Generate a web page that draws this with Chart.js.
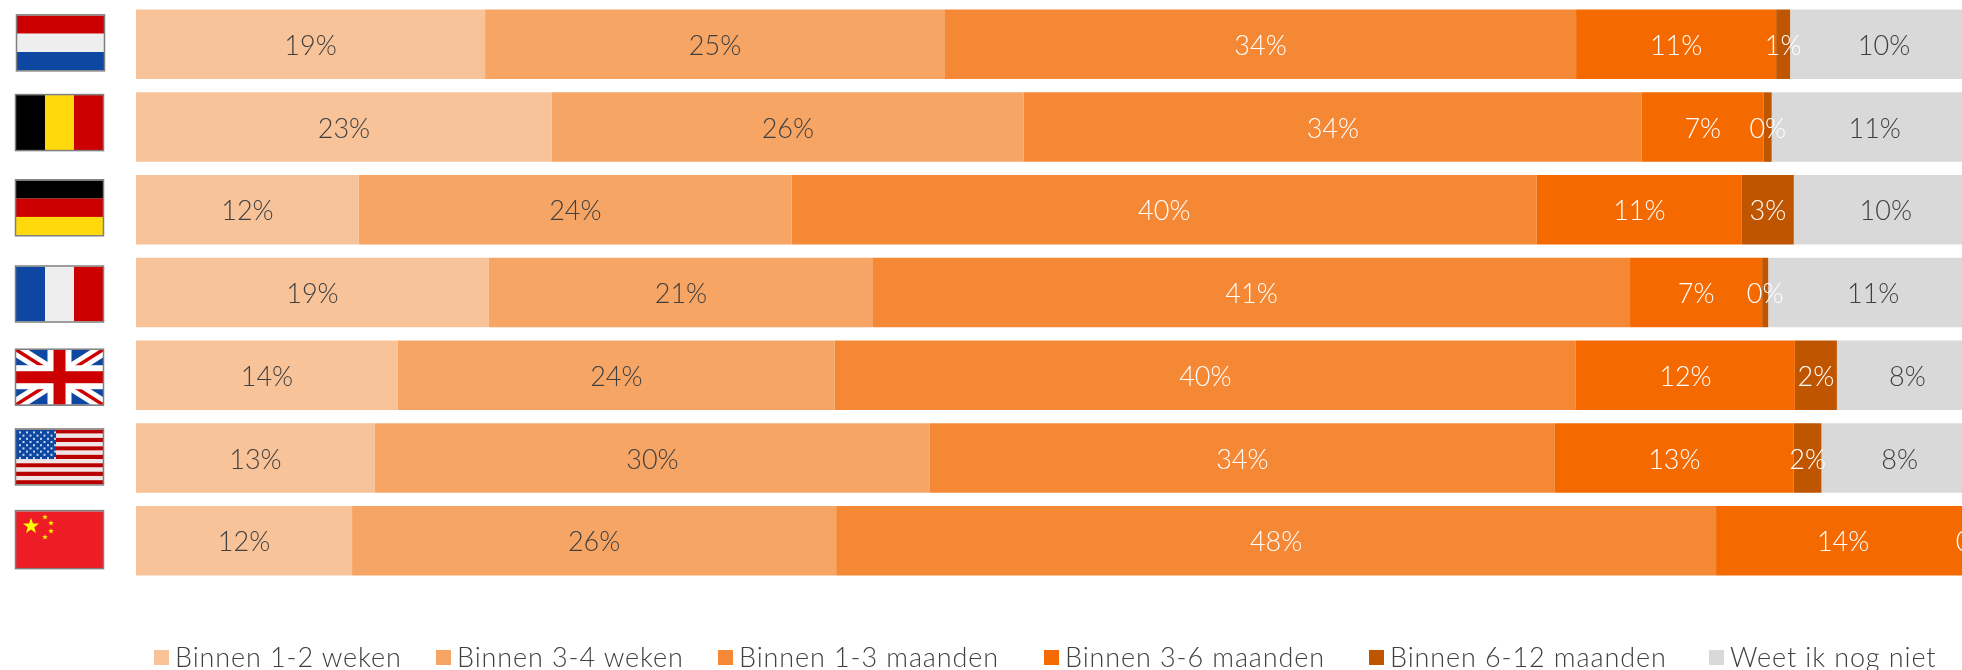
<!DOCTYPE html>
<html lang="nl">
<head>
<meta charset="utf-8">
<title>Binnen welke termijn</title>
<script src="https://cdn.jsdelivr.net/npm/chart.js@4"></script>
<style>
    html, body { margin: 0; padding: 0; background: #fff; width: 1962px; height: 670px; overflow: hidden; }
    #wrap { position: relative; width: 1962px; height: 670px; overflow: hidden; }
    #chart { position: absolute; left: 0; top: 0; }
    .legend-item { position: absolute; top: 640px; height: 30px; line-height: 30px; white-space: nowrap;
        font-family: Lato, sans-serif; font-weight: 300; font-size: 27px; letter-spacing: 0.9px; color: #404040; }
    .legend-item i { position: absolute; left: 0; top: 10px; width: 15px; height: 15px; }
    .legend-item span { position: absolute; left: 21px; top: 2px; }
</style>
</head>
<body>
<div id="wrap"><canvas id="chart" width="1990" height="670"></canvas></div>
<script>
// Landen (van boven naar onder), de vlaggen staan in dezelfde volgorde
const countries = ['Nederland', 'België', 'Duitsland', 'Frankrijk', 'Verenigd Koninkrijk', 'Verenigde Staten', 'China'];
const seriesNames = ['Binnen 1-2 weken', 'Binnen 3-4 weken', 'Binnen 1-3 maanden', 'Binnen 3-6 maanden', 'Binnen 6-12 maanden', 'Weet ik nog niet'];

// Waardes in procenten
const weken12 = [18.95, 22.58, 12.1, 19.16, 14.22, 12.97, 11.73];
const weken34 = [24.97, 25.62, 23.5, 20.85, 23.72, 30.13, 26.28];
const maanden13 = [34.26, 33.55, 40.45, 41.1, 40.23, 33.93, 47.77];
const maanden36 = [10.86, 6.62, 11.13, 7.17, 11.89, 12.97, 13.79];
const maanden612 = [0.76, 0.43, 2.82, 0.33, 2.28, 1.5, 0.43];
const weetNiet = [10.2, 11.18, 9.99, 11.4, 7.65, 8.49, 0];

const seriesValues = [weken12, weken34, maanden13, maanden36, maanden612, weetNiet];
const seriesColors = ['#F8C399', '#F6A565', '#F58835', '#F46A00', '#C05500', '#D9D9D9'];
const labelColors = ['#404040', '#404040', '#ffffff', '#ffffff', '#ffffff', '#404040'];
const legendLeft = [154, 436, 718, 1044, 1369, 1709];

/* ========================================
   Flags
   ======================================== */

const RED = '#CC0000', WHITE = '#EEEEEE', BLUE = '#0D47A1', YELLOW = '#FFD90C';

function hBands(ctx, w, h, colors) {
    colors.forEach(function (c, i) {
        ctx.fillStyle = c;
        ctx.fillRect(0, h * i / colors.length, w, h / colors.length);
    });
}

function vBands(ctx, w, h, colors) {
    colors.forEach(function (c, i) {
        ctx.fillStyle = c;
        ctx.fillRect(w * i / colors.length, 0, w / colors.length, h);
    });
}

function star(ctx, x, y, r, color) {
    ctx.fillStyle = color;
    ctx.beginPath();
    for (let i = 0; i < 10; i++) {
        const a = -Math.PI / 2 + i * Math.PI / 5;
        const d = i % 2 ? r * 0.4 : r;
        ctx.lineTo(x + Math.cos(a) * d, y + Math.sin(a) * d);
    }
    ctx.closePath();
    ctx.fill();
}

function line(ctx, x1, y1, x2, y2, width, color) {
    ctx.strokeStyle = color;
    ctx.lineWidth = width;
    ctx.beginPath();
    ctx.moveTo(x1, y1);
    ctx.lineTo(x2, y2);
    ctx.stroke();
}

const flags = [
    function (ctx, w, h) { hBands(ctx, w, h, [RED, WHITE, BLUE]); },
    function (ctx, w, h) { vBands(ctx, w, h, ['#000000', YELLOW, RED]); },
    function (ctx, w, h) { hBands(ctx, w, h, ['#000000', RED, YELLOW]); },
    function (ctx, w, h) { vBands(ctx, w, h, [BLUE, WHITE, RED]); },
    function (ctx, w, h) {
        ctx.fillStyle = BLUE;
        ctx.fillRect(0, 0, w, h);
        line(ctx, 0, 0, w, h, 13, '#ffffff');
        line(ctx, w, 0, 0, h, 13, '#ffffff');
        line(ctx, 0, 0, w, h, 3.5, RED);
        line(ctx, w, 0, 0, h, 3.5, RED);
        ctx.fillStyle = '#ffffff';
        ctx.fillRect(w / 2 - 12, 0, 24, h);
        ctx.fillRect(0, h / 2 - 12, w, 24);
        ctx.fillStyle = RED;
        ctx.fillRect(w / 2 - 6, 0, 12, h);
        ctx.fillRect(0, h / 2 - 6, w, 12);
    },
    function (ctx, w, h) {
        for (let i = 0; i < 13; i++) {
            ctx.fillStyle = i % 2 ? '#F0E4E4' : '#B80000';
            ctx.fillRect(0, h * i / 13, w, h / 13);
        }
        ctx.fillStyle = '#0D47A1';
        ctx.fillRect(0, 0, w * 0.46, h * 7 / 13);
        ctx.fillStyle = '#C4D8F0';
        for (let r = 0; r < 9; r++) {
            for (let c = 0; c < (r % 2 ? 5 : 6); c++) {
                ctx.fillRect(3 + c * 7 + (r % 2 ? 3.5 : 0), 2 + r * 3.2, 2, 2);
            }
        }
    },
    function (ctx, w, h) {
        ctx.fillStyle = '#EE1C25';
        ctx.fillRect(0, 0, w, h);
        star(ctx, 15, 15, 8.5, '#FFFF00');
        star(ctx, 29, 6, 3, '#FFFF00');
        star(ctx, 35, 12, 3, '#FFFF00');
        star(ctx, 35, 20, 3, '#FFFF00');
        star(ctx, 29, 26, 3, '#FFFF00');
    }
];

const flagOffsetX = [1, 0, 0, 0, 0, 0, 0];
const flagOffsetY = [-1.5, -4.5, -2, 1.5, 2, -1, -1];
const flagHeight = [55, 55, 55, 55, 55, 55, 57];

const flagPlugin = {
    id: 'flags',
    afterDraw: function (chart) {
        const ctx = chart.ctx;
        const yScale = chart.scales.y;
        const w = 87;
        countries.forEach(function (name, i) {
            const h = flagHeight[i];
            const x = 16 + flagOffsetX[i];
            const y = yScale.getPixelForValue(i) + flagOffsetY[i] - h / 2;
            ctx.save();
            ctx.translate(x, y);
            ctx.save();
            ctx.beginPath();
            ctx.rect(0, 0, w, h);
            ctx.clip();
            flags[i](ctx, w, h);
            ctx.restore();
            ctx.strokeStyle = '#7F7F7F';
            ctx.lineWidth = 1.5;
            ctx.strokeRect(-0.5, -0.5, w + 1, h + 1);
            ctx.restore();
        });
    }
};

/* ========================================
   Percentage labels
   ======================================== */

const percentLabels = {
    id: 'percentLabels',
    afterDatasetsDraw: function (chart) {
        const ctx = chart.ctx;
        ctx.save();
        ctx.font = '300 27px Lato, sans-serif';
        ctx.textAlign = 'center';
        ctx.textBaseline = 'middle';
        chart.data.datasets.forEach(function (ds, d) {
            chart.getDatasetMeta(d).data.forEach(function (bar, i) {
                if (!ds.data[i]) return;
                const p = bar.getCenterPoint();
                ctx.fillStyle = labelColors[d];
                ctx.fillText(Math.round(ds.data[i]) + '%', p.x, p.y + 2);
            });
        });
        ctx.restore();
    }
};

/* ========================================
   Chart
   ======================================== */

function initChart() {
    new Chart(document.getElementById('chart').getContext('2d'), {
        type: 'bar',
        data: {
            labels: countries,
            datasets: seriesNames.map(function (name, i) {
                return {
                    label: name,
                    data: seriesValues[i],
                    backgroundColor: seriesColors[i],
                    borderWidth: 0,
                    barPercentage: 0.84,
                    categoryPercentage: 1
                };
            })
        },
        options: {
            indexAxis: 'y',
            responsive: false,
            animation: false,
            layout: { padding: { left: 136, right: 12, top: 3, bottom: 88 } },
            plugins: {
                legend: { display: false },
                tooltip: { enabled: false }
            },
            scales: {
                x: { stacked: true, min: 0, max: 100, display: false },
                y: { stacked: true, display: false }
            }
        },
        plugins: [percentLabels, flagPlugin]
    });
}

function initLegend() {
    const wrap = document.getElementById('wrap');
    seriesNames.forEach(function (name, i) {
        const item = document.createElement('div');
        item.className = 'legend-item';
        item.style.left = legendLeft[i] + 'px';
        const box = document.createElement('i');
        box.style.background = seriesColors[i];
        const text = document.createElement('span');
        text.textContent = name;
        item.appendChild(box);
        item.appendChild(text);
        wrap.appendChild(item);
    });
}

initChart();
initLegend();
</script>
</body>
</html>
